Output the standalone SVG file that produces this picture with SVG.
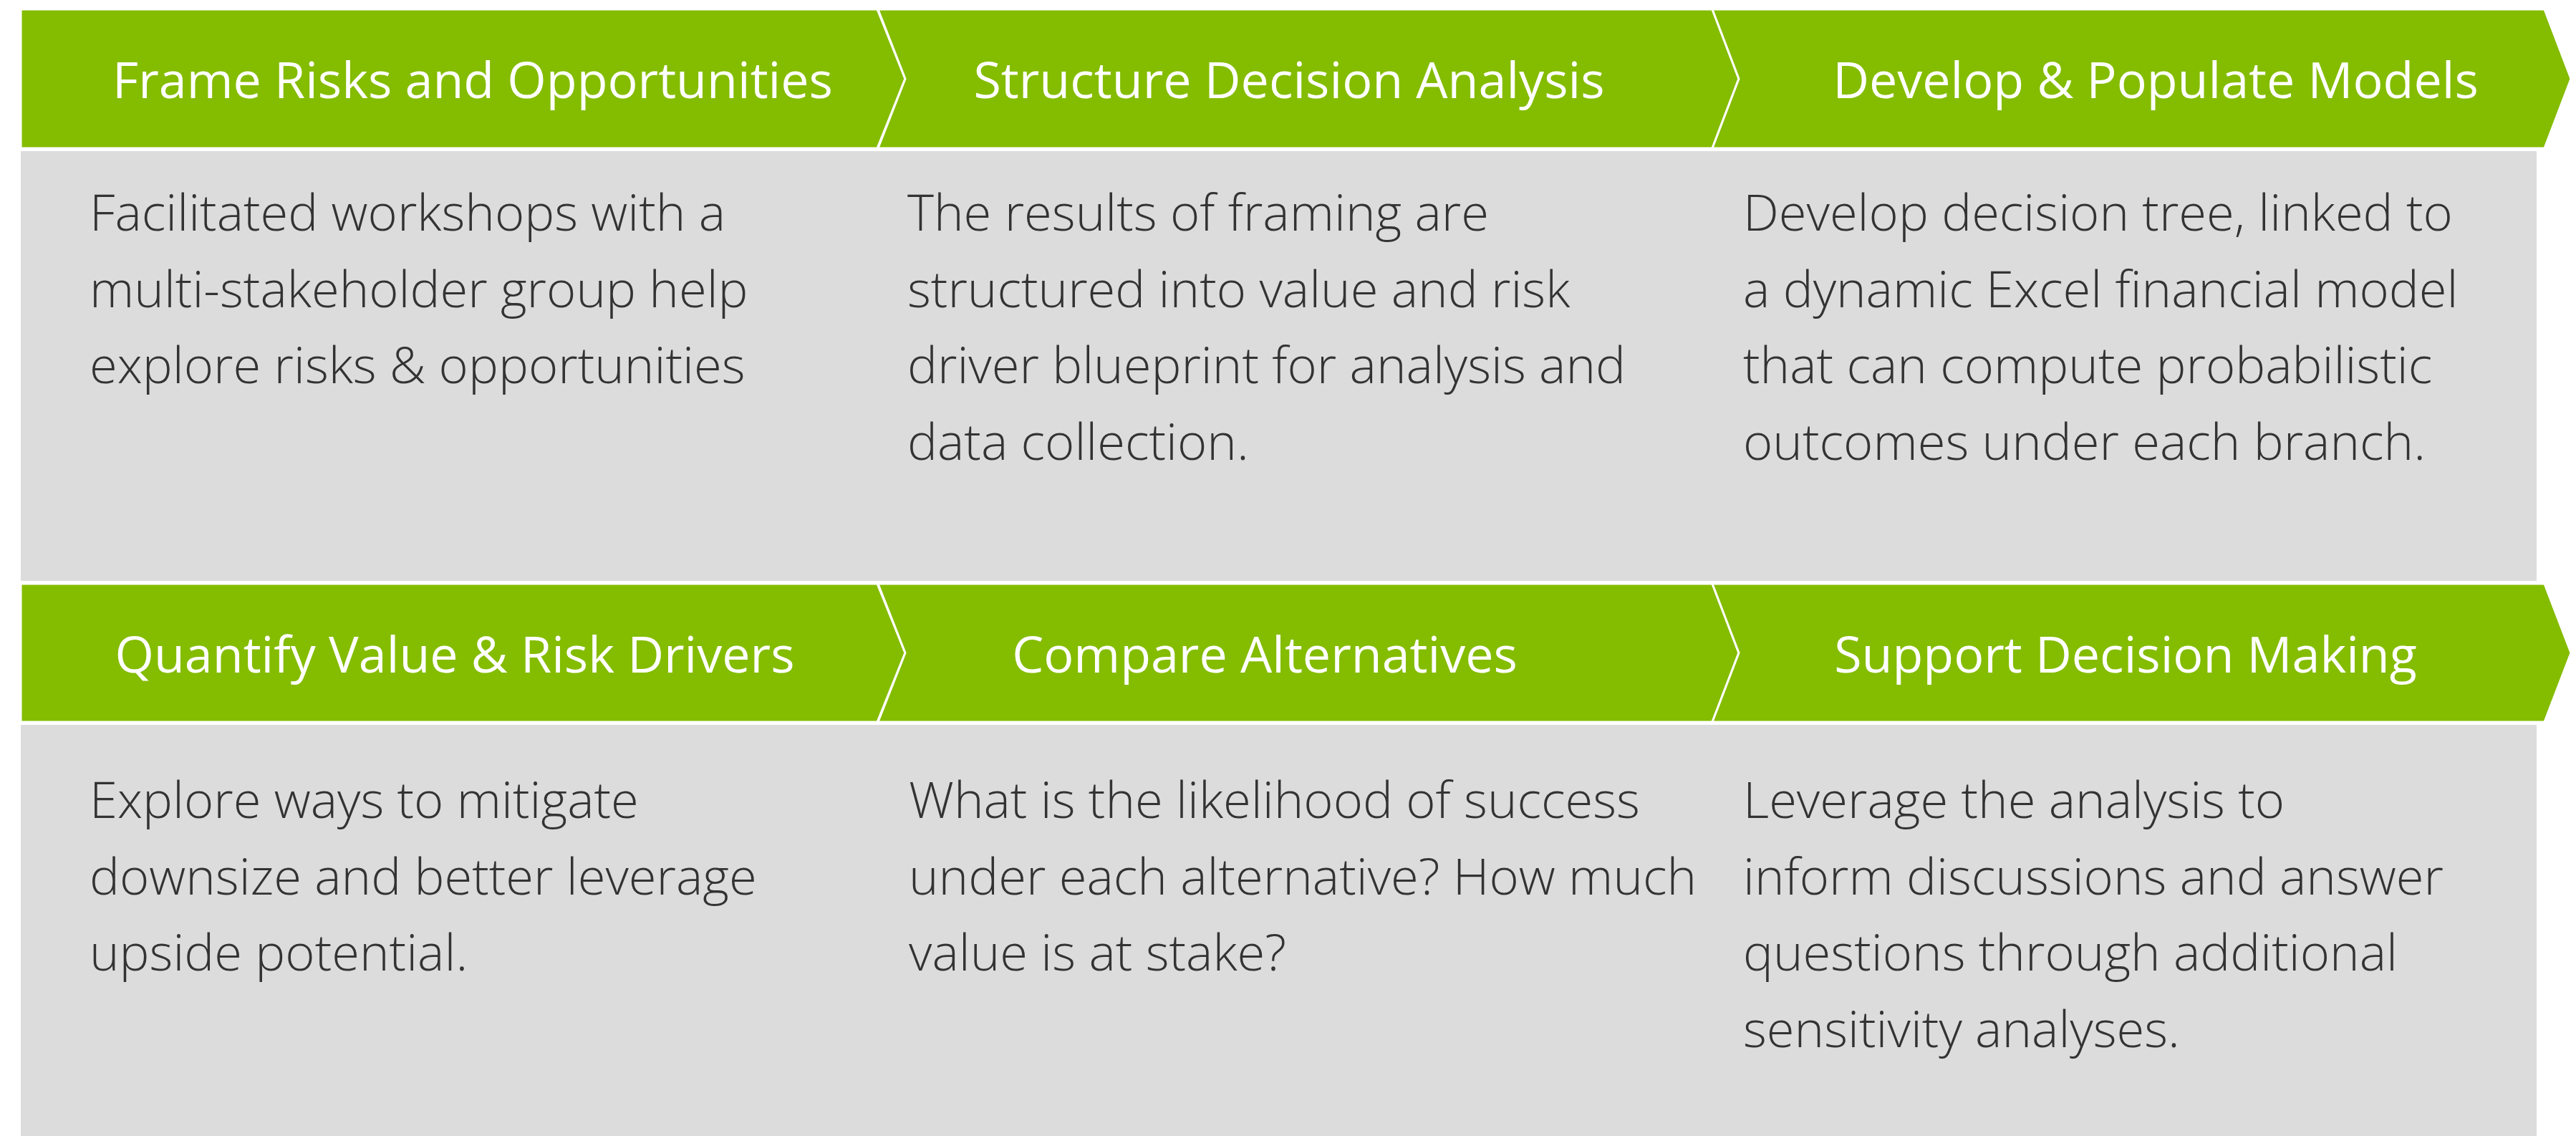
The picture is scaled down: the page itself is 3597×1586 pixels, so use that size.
<svg xmlns="http://www.w3.org/2000/svg" width="3597" height="1586" viewBox="0 0 3597 1586">
<style>
.bg{fill:#ffffff}
.box{fill:#dcdcdc}
.chev{fill:#84bc00;stroke:#ffffff;stroke-width:3;stroke-linejoin:miter}
.hd{font-family:"Open Sans","Noto Sans","Liberation Sans",sans-serif;font-size:70px;fill:#ffffff;text-anchor:middle}
.bd{font-family:"Open Sans","Noto Sans","Liberation Sans",sans-serif;font-weight:300;font-size:70.5px;fill:#333333}
</style>
<rect class="bg" x="0" y="0" width="3597" height="1586"/>
<g id="connectors"></g>
<g id="node-frame">
<rect class="box" x="29" y="211" width="1197" height="600"/>
<path class="chev" d="M29,13 L1225,13 L1264,110 L1225,207 L29,207 Z"/>
<text class="hd" x="660" y="137">Frame Risks and Opportunities</text>
<text class="bd" x="125" y="322">Facilitated workshops with a</text>
<text class="bd" x="125" y="429">multi-stakeholder group help</text>
<text class="bd" x="125" y="535">explore risks &amp; opportunities</text>
</g>
<g id="node-structure">
<rect class="box" x="1226" y="211" width="1165" height="600"/>
<path class="chev" d="M1226,13 L2391,13 L2428,110 L2391,207 L1226,207 L1264,110 Z"/>
<text class="hd" x="1800" y="137">Structure Decision Analysis</text>
<text class="bd" x="1267" y="322">The results of framing are</text>
<text class="bd" x="1267" y="429">structured into value and risk</text>
<text class="bd" x="1267" y="535">driver blueprint for analysis and</text>
<text class="bd" x="1267" y="642">data collection.</text>
</g>
<g id="node-develop">
<rect class="box" x="2391" y="211" width="1151" height="600"/>
<path class="chev" d="M2391,13 L3553,13 L3590,110 L3553,207 L2391,207 L2428,110 Z"/>
<text class="hd" x="3010" y="137">Develop &amp; Populate Models</text>
<text class="bd" x="2434" y="322">Develop decision tree, linked to</text>
<text class="bd" x="2434" y="429">a dynamic Excel financial model</text>
<text class="bd" x="2434" y="535">that can compute probabilistic</text>
<text class="bd" x="2434" y="642">outcomes under each branch.</text>
</g>
<g id="node-quantify">
<rect class="box" x="29" y="1012" width="1197" height="574"/>
<path class="chev" d="M29,815 L1225,815 L1264,911.5 L1225,1008 L29,1008 Z"/>
<text class="hd" x="635" y="939">Quantify Value &amp; Risk Drivers</text>
<text class="bd" x="125" y="1142">Explore ways to mitigate</text>
<text class="bd" x="125" y="1249">downsize and better leverage</text>
<text class="bd" x="125" y="1355">upside potential.</text>
</g>
<g id="node-compare">
<rect class="box" x="1226" y="1012" width="1165" height="574"/>
<path class="chev" d="M1226,815 L2391,815 L2428,911.5 L2391,1008 L1226,1008 L1264,911.5 Z"/>
<text class="hd" x="1766" y="939">Compare Alternatives</text>
<text class="bd" x="1269" y="1142">What is the likelihood of success</text>
<text class="bd" x="1269" y="1249">under each alternative? How much</text>
<text class="bd" x="1269" y="1355">value is at stake?</text>
</g>
<g id="node-support">
<rect class="box" x="2391" y="1012" width="1151" height="574"/>
<path class="chev" d="M2391,815 L3553,815 L3590,911.5 L3553,1008 L2391,1008 L2428,911.5 Z"/>
<text class="hd" x="2968" y="939">Support Decision Making</text>
<text class="bd" x="2434" y="1142">Leverage the analysis to</text>
<text class="bd" x="2434" y="1249">inform discussions and answer</text>
<text class="bd" x="2434" y="1355">questions through additional</text>
<text class="bd" x="2434" y="1462">sensitivity analyses.</text>
</g>
</svg>
